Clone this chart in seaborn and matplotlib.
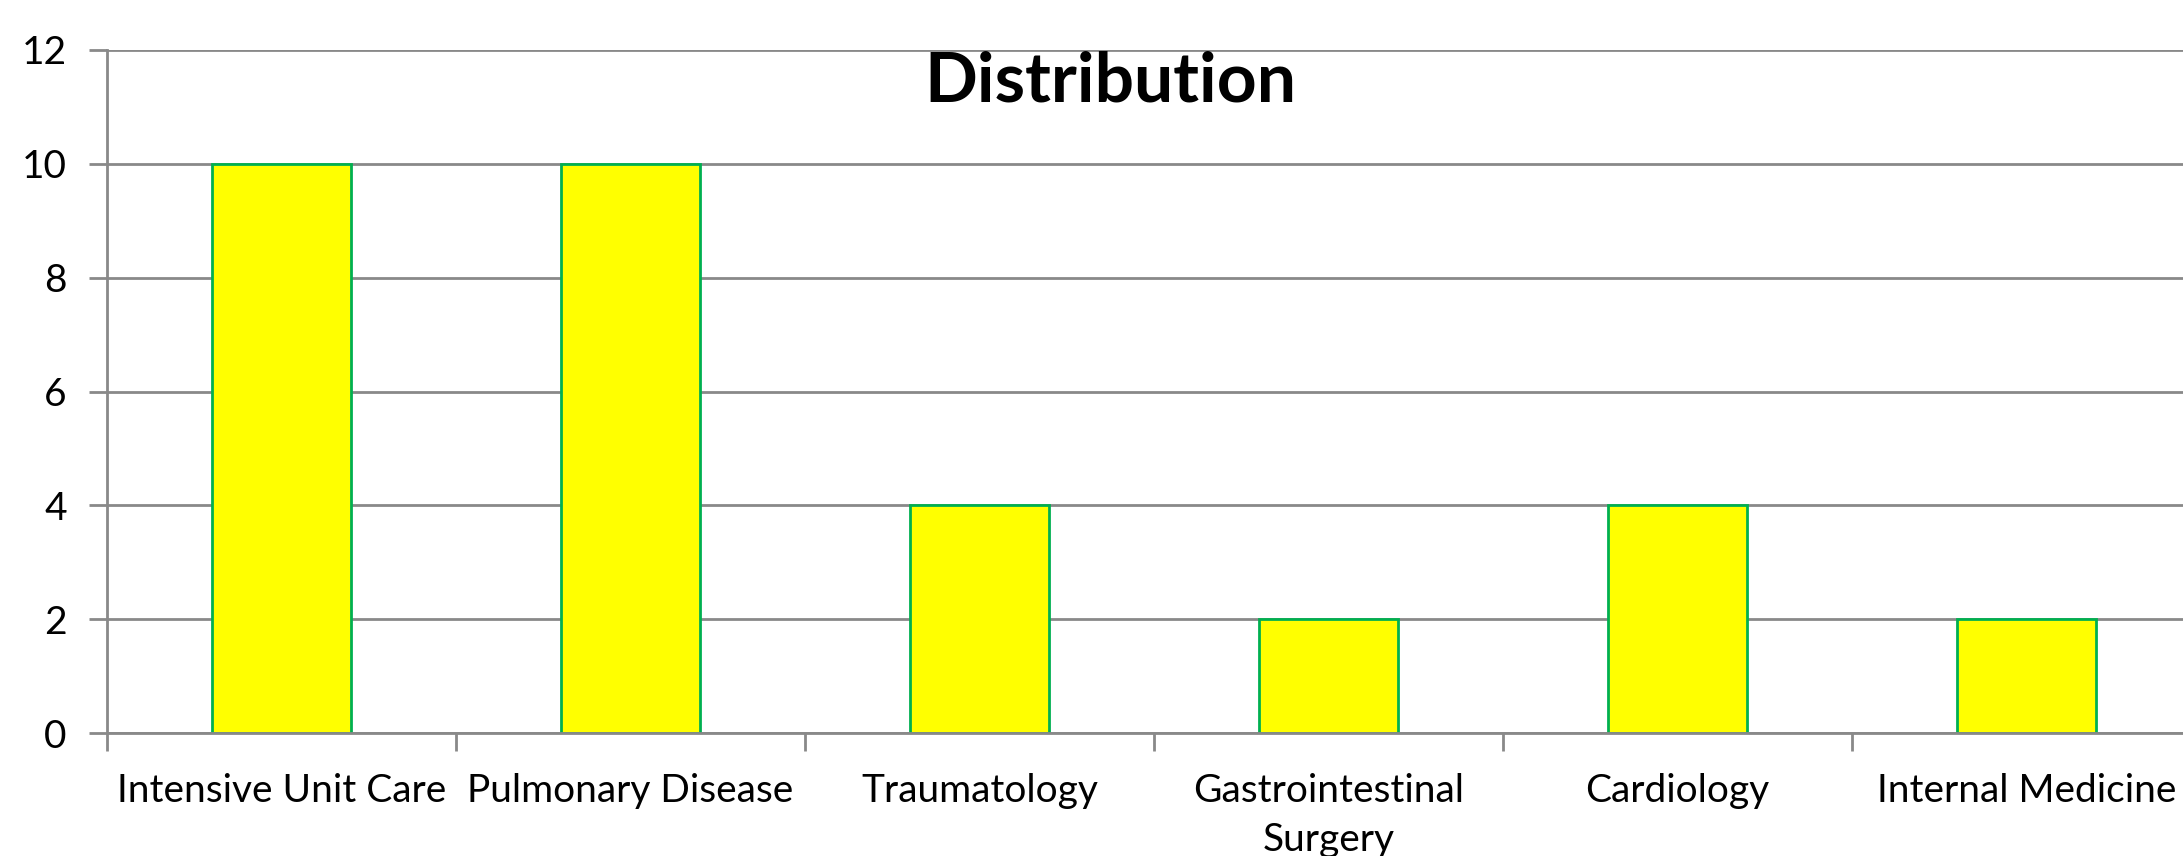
import pandas as pd
import seaborn as sns
import matplotlib
import matplotlib.pyplot as plt
from matplotlib.ticker import FixedLocator, NullFormatter, FixedFormatter
matplotlib.use('Agg')

departments = ['Intensive Unit Care', 'Pulmonary Disease', 'Traumatology',
               'Gastrointestinal\nSurgery', 'Cardiology', 'Internal Medicine']
counts = [10, 10, 4, 2, 4, 2]
y_ticks = [0, 2, 4, 6, 8, 10, 12]

db = pd.DataFrame({'department': departments, 'count': counts})

sns.set_theme(style='white')
plt.rcParams['font.family'] = ['Lato', 'DejaVu Sans']
plt.rcParams['text.color'] = 'black'
plt.rcParams['xtick.labelcolor'] = 'black'
plt.rcParams['ytick.labelcolor'] = 'black'

fig = plt.figure(figsize=(21.83, 8.56), dpi=100)
ax = fig.add_axes([107 / 2183, 1 - 733 / 856, 2094 / 2183, 683 / 856])

sns.barplot(x='department', y='count', data=db, ax=ax, width=0.4,
            color='#FFFF00', edgecolor='#00B050', linewidth=2, saturation=1)

grid_color = '#898989'
ax.set_ylim(0, 12)
ax.set_xlim(-0.5, len(departments) - 0.5)
ax.set_yticks(y_ticks)
ax.set_yticklabels([str(t) for t in y_ticks])
ax.yaxis.grid(True, color=grid_color, linewidth=2)
ax.set_axisbelow(True)

# Excel-style: ticks between categories, labels centred under bars
ax.xaxis.set_major_locator(FixedLocator([i - 0.5 for i in range(len(departments) + 1)]))
ax.xaxis.set_major_formatter(NullFormatter())
ax.xaxis.set_minor_locator(FixedLocator(list(range(len(departments)))))
ax.xaxis.set_minor_formatter(FixedFormatter(departments))
ax.tick_params(axis='x', which='major', bottom=True, length=13, width=2, color=grid_color)
ax.tick_params(axis='x', which='minor', bottom=False, length=0, pad=29, labelsize=28)
ax.tick_params(axis='y', left=True, length=13, width=2, color=grid_color, pad=16, labelsize=28)
for lbl in ax.get_xticklabels(minor=True):
    lbl.set_linespacing(1.45)

for side in ['top', 'right']:
    ax.spines[side].set_visible(False)
for side in ['left', 'bottom']:
    ax.spines[side].set_color(grid_color)
    ax.spines[side].set_linewidth(2)

ax.set_xlabel('')
ax.set_ylabel('')
fig.text(1110 / 2183, 1 - 102 / 856, 'Distribution', ha='center', va='baseline',
         fontsize=50, fontweight='bold', color='black')

fig.savefig('out.png', dpi=100)
